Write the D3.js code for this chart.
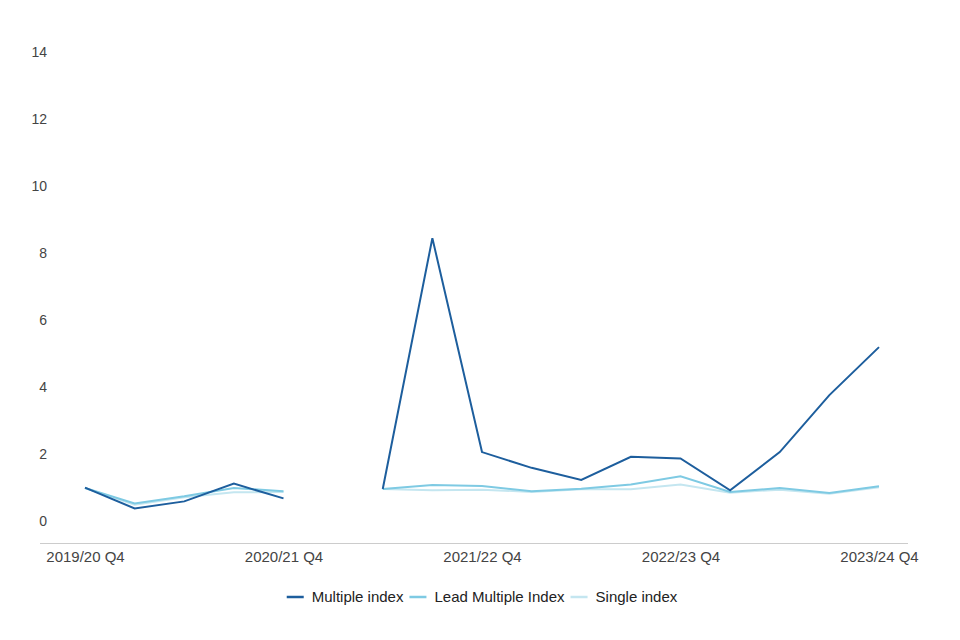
<!DOCTYPE html>
<html>
<head>
<meta charset="utf-8">
<script src="https://cdn.jsdelivr.net/npm/d3@7"></script>
<style>
  body { margin: 0; background: #fff; }
  svg { display: block; font-family: "Liberation Sans", Arial, sans-serif; }
</style>
</head>
<body>
<svg id="chart" width="960" height="640"></svg>
<script>
// quarters, 2019/20 Q4 .. 2023/24 Q4
const quarters = [
    "2019/20 Q4", "2020/21 Q1", "2020/21 Q2", "2020/21 Q3", "2020/21 Q4",
    "2021/22 Q1", "2021/22 Q2", "2021/22 Q3", "2021/22 Q4",
    "2022/23 Q1", "2022/23 Q2", "2022/23 Q3", "2022/23 Q4",
    "2023/24 Q1", "2023/24 Q2", "2023/24 Q3", "2023/24 Q4"
];
const tickLabels = ["2019/20 Q4", "2020/21 Q4", "2021/22 Q4", "2022/23 Q4", "2023/24 Q4"];
const yTicks = [0, 2, 4, 6, 8, 10, 12, 14];

// null = no data for that quarter
const multipleIndex = [1.01, 0.39, 0.6, 1.13, 0.69, null, 0.97, 8.45, 2.07, 1.6, 1.24, 1.93, 1.88, 0.93, 2.07, 3.77, 5.2];
const leadMultipleIndex = [1.0, 0.54, 0.75, 1.0, 0.9, null, 0.97, 1.09, 1.06, 0.9, 0.98, 1.1, 1.35, 0.88, 1.0, 0.85, 1.05];
const singleIndex = [1.0, 0.5, 0.72, 0.87, 0.88, null, 0.97, 0.93, 0.95, 0.88, 0.96, 0.96, 1.1, 0.86, 0.95, 0.83, 1.02];

const seriesNames = ["Multiple index", "Lead Multiple Index", "Single index"];
const seriesColors = ["#1d5e9d", "#7ecae3", "#c4e6f0"];

(function () {
    const svg = d3.select("#chart");

    const x = d3.scalePoint().domain(quarters).range([85, 879]);
    const y = d3.scaleLinear().domain([0, 14]).range([521.5, 52]);

    // x axis baseline (sits a bit below zero)
    svg.append("line")
        .attr("x1", 40).attr("x2", 908)
        .attr("y1", 543.5).attr("y2", 543.5)
        .attr("stroke", "#cccccc").attr("stroke-width", 1);

    // y tick labels, no grid
    svg.append("g")
        .attr("transform", "translate(47,0)")
        .call(d3.axisLeft(y).tickValues(yTicks).tickSize(0).tickPadding(0))
        .call(g => g.select(".domain").remove())
        .call(g => g.selectAll("text")
            .attr("font-family", "Liberation Sans, Arial, sans-serif")
            .attr("font-size", "14px")
            .attr("fill", "#444"));

    // x tick labels
    svg.append("g")
        .attr("transform", "translate(0,543.5)")
        .call(d3.axisBottom(x).tickValues(tickLabels).tickSize(0).tickPadding(8))
        .call(g => g.select(".domain").remove())
        .call(g => g.selectAll("text")
            .attr("font-family", "Liberation Sans, Arial, sans-serif")
            .attr("font-size", "15px")
            .attr("fill", "#444"));

    const line = d3.line()
        .defined(d => d.v !== null)
        .x(d => x(d.q))
        .y(d => y(d.v));

    const allSeries = [multipleIndex, leadMultipleIndex, singleIndex];
    // draw lightest first so the dark line sits on top
    [2, 1, 0].forEach(i => {
        const pts = quarters.map((q, j) => ({ q: q, v: allSeries[i][j] }));
        svg.append("path")
            .datum(pts)
            .attr("fill", "none")
            .attr("stroke", seriesColors[i])
            .attr("stroke-width", 2)
            .attr("stroke-linejoin", "miter")
            .attr("d", line);
    });

    // legend, centred under the plot
    const legend = svg.append("g").attr("transform", "translate(0,597)");
    let cx = 0;
    const items = [];
    seriesNames.forEach((name, i) => {
        const g = legend.append("g");
        g.append("line")
            .attr("x1", 0).attr("x2", 17)
            .attr("y1", 0).attr("y2", 0)
            .attr("stroke", seriesColors[i]).attr("stroke-width", 2.5);
        const t = g.append("text")
            .attr("x", 25).attr("dy", "0.35em")
            .attr("font-size", "15px")
            .attr("fill", "#222")
            .text(name);
        const w = 25 + t.node().getComputedTextLength();
        items.push({ g: g, x: cx });
        cx += w + 6;
    });
    const total = cx - 6;
    const start = 482 - total / 2;
    items.forEach(it => it.g.attr("transform", `translate(${start + it.x},0)`));
})();
</script>
</body>
</html>
